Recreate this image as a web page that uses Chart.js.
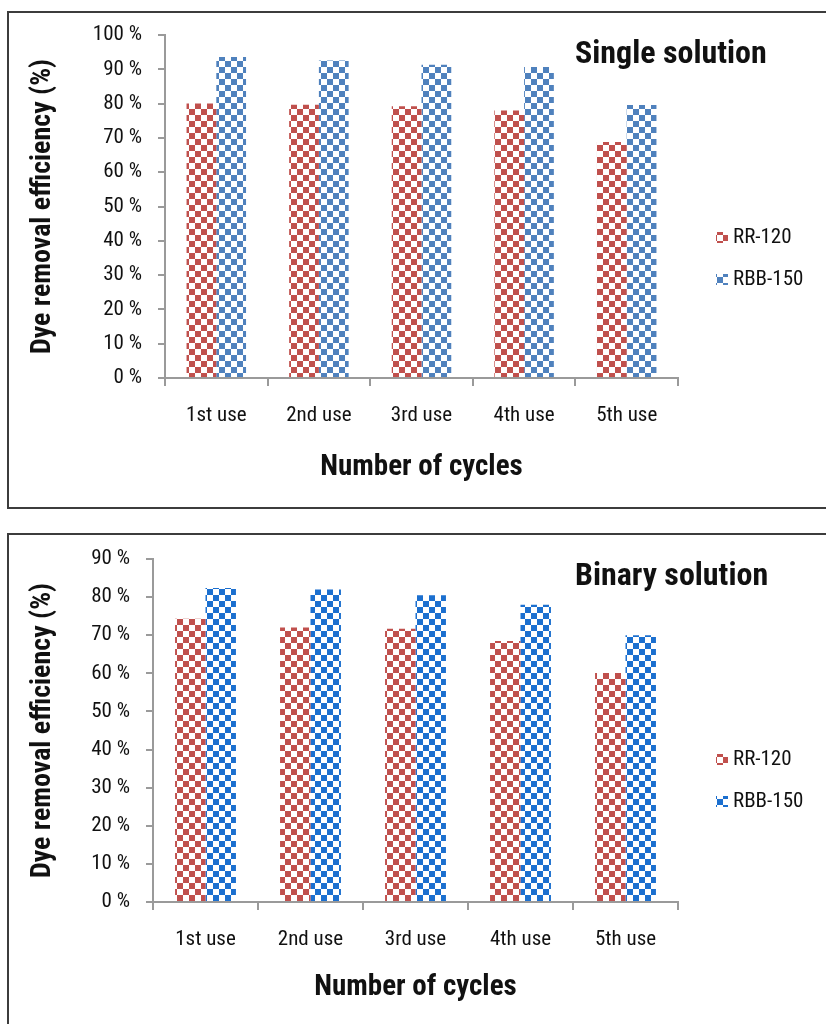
<!DOCTYPE html>
<html>
<head>
<meta charset="utf-8">
<script src="https://cdn.jsdelivr.net/npm/chart.js@4.4.1/dist/chart.umd.min.js"></script>
<style>
  html, body { margin: 0; padding: 0; background: #fff; overflow: hidden; }
  body { width: 826px; height: 1024px; position: relative; }
  .panel { position: absolute; left: 7px; width: 830px; height: 494px; border: 2px solid #3c3c3c; background: #fff; }
  #p1 { top: 11px; }
  #p2 { top: 533px; }
  canvas { display: block; }
</style>
</head>
<body>
<div class="panel" id="p1"><canvas id="singleChart" width="817" height="494"></canvas></div>
<div class="panel" id="p2"><canvas id="binaryChart" width="817" height="494"></canvas></div>
<script>
// Data
const cycles = ['1st use', '2nd use', '3rd use', '4th use', '5th use'];
const seriesNames = ['RR-120', 'RBB-150'];
const singleRR = [80, 79.7, 79.2, 78, 68.8];
const singleRBB = [93.6, 92.6, 91.3, 90.7, 79.6];
const binaryRR = [74.3, 72, 71.7, 68.5, 60.1];
const binaryRBB = [82.4, 82, 80.5, 78, 70];
const singleMax = 100;
const binaryMax = 90;

const FONT = '"Liberation Sans Narrow", "Roboto Condensed", Roboto, sans-serif';
Chart.defaults.font.family = FONT;
Chart.defaults.color = '#111';

// checkerboard fill like the Excel pattern
function checker(color, cell) {
    const c = document.createElement('canvas');
    c.width = cell * 2;
    c.height = cell * 2;
    const g = c.getContext('2d');
    g.fillStyle = '#fff';
    g.fillRect(0, 0, c.width, c.height);
    g.fillStyle = color;
    g.fillRect(0, 0, cell, cell);
    g.fillRect(cell, cell, cell, cell);
    return g.createPattern(c, 'repeat');
}

// panel title + legend drawn on the canvas
const panelText = {
    id: 'panelText',
    afterDraw(chart, args, opts) {
        const ctx = chart.ctx;
        ctx.save();
        ctx.fillStyle = '#111';
        ctx.font = 'bold 32px ' + FONT;
        ctx.textBaseline = 'alphabetic';
        ctx.fillText(opts.title, opts.titleX, opts.titleY);

        ctx.font = '21px ' + FONT;
        ctx.textBaseline = 'middle';
        chart.data.datasets.forEach((ds, i) => {
            const y = opts.legendY + i * 42;
            ctx.fillStyle = ds.backgroundColor;
            ctx.fillRect(opts.legendX, y - 6, 12, 11);
            ctx.fillStyle = '#111';
            ctx.fillText(ds.label, opts.legendX + 17, y);
        });
        ctx.restore();
    }
};

function makeChart(id, rr, rbb, yMax, axisWidth, axisHeight, padTop, titlePad, blue, title) {
    const ctx = document.getElementById(id).getContext('2d');
    return new Chart(ctx, {
        type: 'bar',
        data: {
            labels: cycles,
            datasets: [
                { label: seriesNames[0], data: rr, backgroundColor: checker('#c0504d', 6), borderWidth: 0 },
                { label: seriesNames[1], data: rbb, backgroundColor: checker(blue, 6), borderWidth: 0 }
            ]
        },
        plugins: [panelText],
        options: {
            responsive: false,
            animation: false,
            events: [],
            layout: { padding: { top: padTop, right: 148, left: 0, bottom: 0 } },
            datasets: { bar: { barPercentage: 1, categoryPercentage: 0.58 } },
            plugins: {
                legend: { display: false },
                tooltip: { enabled: false },
                panelText: { title: title, titleX: 566, titleY: 50, legendX: 707, legendY: 225 }
            },
            scales: {
                x: {
                    grid: { offset: true, drawOnChartArea: false, tickLength: 8, color: '#9a9a9a', lineWidth: 2 },
                    border: { color: '#9a9a9a', width: 2 },
                    ticks: { padding: 17, font: { size: 21 }, color: '#111' },
                    title: { display: true, text: 'Number of cycles', font: { size: 29, weight: 'bold' }, color: '#111', padding: { top: 0, bottom: titlePad } },
                    afterFit(scale) { scale.height = axisHeight; }
                },
                y: {
                    min: 0,
                    max: yMax,
                    grid: { drawOnChartArea: false, tickLength: 7, color: '#9a9a9a', lineWidth: 2 },
                    border: { color: '#9a9a9a', width: 2 },
                    ticks: { stepSize: 10, padding: 16, font: { size: 21 }, color: '#111', callback: v => v + ' %' },
                    title: { display: true, text: 'Dye removal efficiency (%)', font: { size: 28, weight: 'bold' }, color: '#111', padding: { top: 17, bottom: 0 } },
                    afterFit(scale) {
                        scale.width = axisWidth;
                        scale.paddingTop = 0;
                        scale.paddingBottom = 0;
                    }
                }
            }
        }
    });
}

makeChart('singleChart', singleRR, singleRBB, singleMax, 156, 129, 22, 22, '#4f81bd', 'Single solution');
makeChart('binaryChart', binaryRR, binaryRBB, binaryMax, 144, 127, 24, 24, '#1b6fcf', 'Binary solution');
</script>
</body>
</html>
